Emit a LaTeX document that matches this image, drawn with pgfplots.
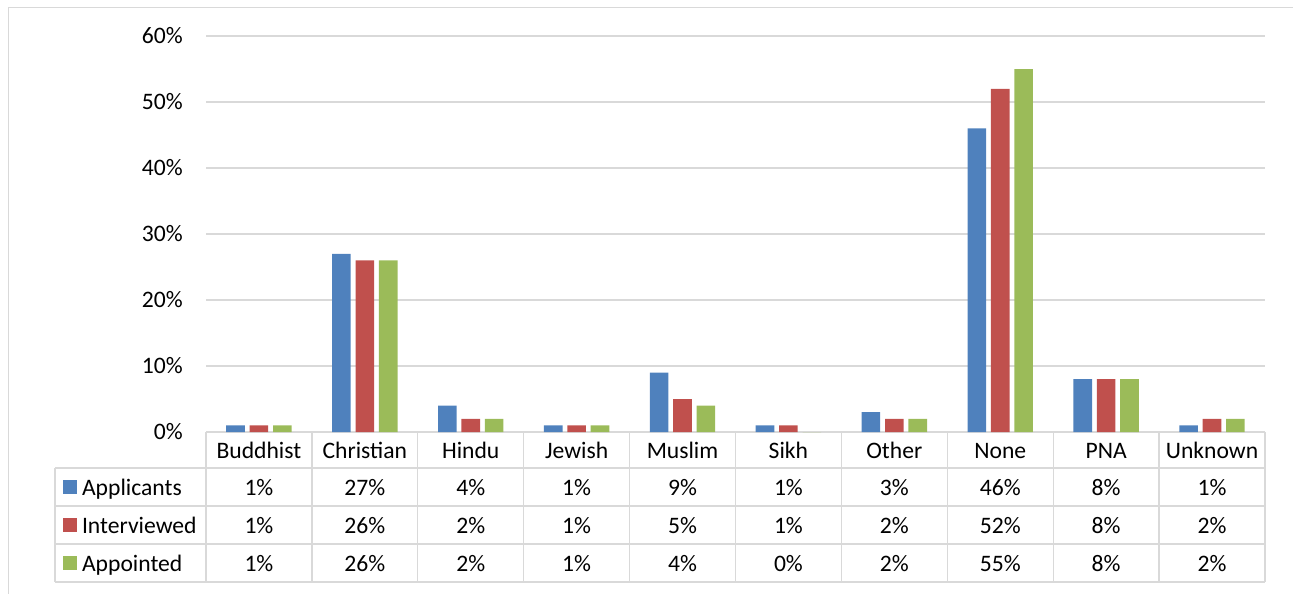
\documentclass[border=0pt]{standalone}
\usepackage{fontspec}
\setmainfont{Carlito}
\usepackage{pgfplots}
\usepackage{pgfplotstable}
\pgfplotsset{compat=1.18}
\definecolor{cA}{RGB}{79,129,189}
\definecolor{cI}{RGB}{192,80,77}
\definecolor{cP}{RGB}{155,187,89}
\definecolor{gl}{RGB}{217,217,217}
\pgfplotstableread{
x A I P
0 1 1 1
1 27 26 26
2 4 2 2
3 1 1 1
4 9 5 4
5 1 1 0
6 3 2 2
7 46 52 55
8 8 8 8
9 1 2 2
}\data
\newcommand{\fs}{\fontsize{23.7}{28}\selectfont}
\begin{document}
\begin{tikzpicture}
\useasboundingbox (0bp,-594bp) rectangle (1293bp,0bp);
\draw[gl, line width=1.3bp] (8.5bp,-620bp) -- (8.5bp,-7.5bp) -- (1320bp,-7.5bp);
\begin{axis}[
  at={(206bp,-432bp)}, anchor=south west,
  scale only axis, width=1059bp, height=396bp,
  xmin=-0.5, xmax=9.5, ymin=0, ymax=60,
  ytick={0,10,...,60},
  yticklabel={\pgfmathprintnumber{\tick}\%},
  xtick={0,...,9},
  xticklabels={Buddhist,Christian,Hindu,Jewish,Muslim,Sikh,Other,None,PNA,Unknown},
  axis line style={draw=none},
  major tick length=0,
  ymajorgrids, grid style={gl, line width=1.3bp},
  clip=false,
  font=\fs,
  tick label style={font=\fs, inner sep=0},
  /pgf/number format/assume math mode=true,
  yticklabel style={anchor=east, xshift=-23bp},
  xticklabel style={anchor=base, yshift=-26bp},
  legend style={at={(-0.135,-0.0909)}, anchor=north west, draw=none, fill=none,
    inner sep=0, outer sep=0, row sep=0,
    nodes={inner sep=0, text height=27bp, text depth=11bp, font=\fs},
    /tikz/every odd column/.append style={column sep=5bp}},
  legend cell align=left,
  legend image code/.code={\fill[#1] (0bp,-7bp) rectangle (14bp,7bp);},
  every node near coord/.append style={font=\fs, inner sep=0, text height=15bp, text depth=0bp},
]
\addplot[ybar, bar width=18.6bp, bar shift=-23.4bp, fill=cA, draw=none] table[x=x,y=A]{\data};
\addlegendentry{Applicants}
\addplot[ybar, bar width=18.6bp, bar shift=0bp, fill=cI, draw=none] table[x=x,y=I]{\data};
\addlegendentry{Interviewed}
\addplot[ybar, bar width=18.6bp, bar shift=23.4bp, fill=cP, draw=none] table[x=x,y=P]{\data};
\addlegendentry{Appointed}
\addplot[forget plot, draw=none, nodes near coords={\pgfplotspointmeta\%}, nodes near coords align=center, point meta=explicit symbolic] table[x=x, y expr=-8.409, meta=A]{\data};
\addplot[forget plot, draw=none, nodes near coords={\pgfplotspointmeta\%}, nodes near coords align=center, point meta=explicit symbolic] table[x=x, y expr=-14.167, meta=I]{\data};
\addplot[forget plot, draw=none, nodes near coords={\pgfplotspointmeta\%}, nodes near coords align=center, point meta=explicit symbolic] table[x=x, y expr=-19.924, meta=P]{\data};
\end{axis}
% data table grid
\begin{scope}[gl, line width=1.3bp]
\foreach \i in {0,...,10} {
  \draw ({(206+\i*105.9)*1bp},-432bp) -- ({(206+\i*105.9)*1bp},-582bp);
}
\draw (55bp,-468bp) -- (55bp,-582bp);
\foreach \yy in {468,506,544,582} {
  \draw (55bp,-\yy bp) -- (1265bp,-\yy bp);
}
\end{scope}
\end{tikzpicture}
\end{document}
